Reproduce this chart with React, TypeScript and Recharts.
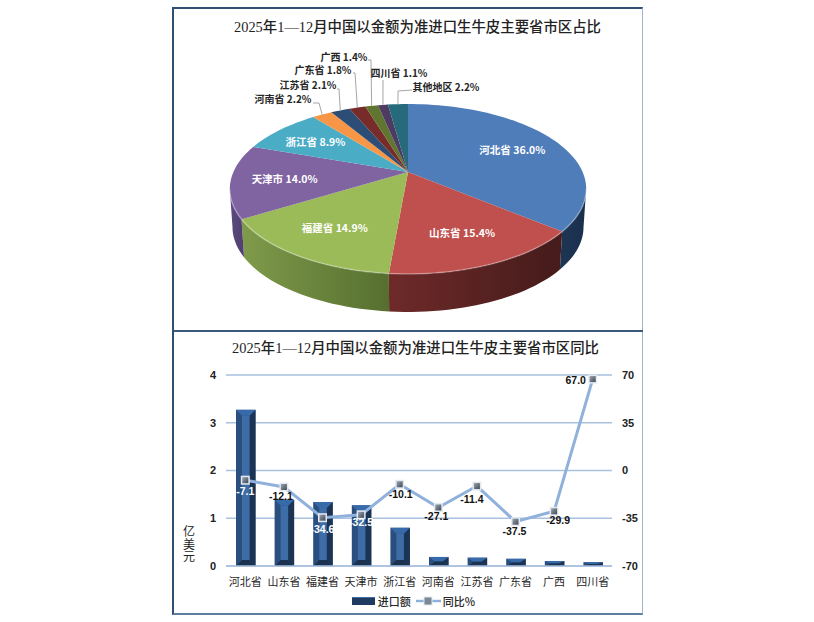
import {
  Bar,
  CartesianGrid,
  ComposedChart,
  Legend,
  Line,
  Pie,
  PieChart,
  XAxis,
  YAxis,
} from "recharts";

const shareNames = ["河北省", "山东省", "福建省", "天津市", "浙江省", "河南省", "江苏省", "广东省", "广西", "四川省", "其他地区"];
const shareValues = [36.0, 15.4, 14.9, 14.0, 8.9, 2.2, 2.1, 1.8, 1.4, 1.1, 2.2];
const shareColors = ["#4f7dba", "#c0504d", "#9bbb59", "#8064a2", "#4bacc6", "#f79646", "#2c4d75", "#772c2a", "#5f7530", "#4d3b62", "#276a7c"];
const wallLight = ["#1d3554", "#6e2a29", "#7f9b4a", "#5c4a80", "#2f7385", "#a8642c", "#1d3554", "#4d1e1e", "#3e4d20", "#33273f", "#1a4a57"];
const wallDark = ["#1a2f4c", "#451b1b", "#566f30", "#4f3f6e", "#27606f", "#8a5224", "#1a2f4c", "#3d1818", "#333f1a", "#2a2034", "#163e49"];

const provinces = ["河北省", "山东省", "福建省", "天津市", "浙江省", "河南省", "江苏省", "广东省", "广西", "四川省"];
const importValues = [3.27, 1.39, 1.34, 1.27, 0.8, 0.19, 0.175, 0.15, 0.105, 0.08];
const yoyValues = [-7.1, -12.1, -34.6, -32.5, -10.1, -27.1, -11.4, -37.5, -29.9, 67.0];
const amountTicks = [0, 1, 2, 3, 4];
const yoyTicks = [-70, -35, 0, 35, 70];

const shareData = shareNames.map((name, i) => ({ name, value: shareValues[i] }));
const barData = provinces.map((name, i) => ({ name, amount: importValues[i], yoy: yoyValues[i] }));

const SERIF = '"Liberation Serif", "Noto Sans CJK SC", serif';
const LABEL_FONT = '"Noto Sans CJK SC", "Liberation Sans", sans-serif';

// pie is drawn in perspective: the apex sits above the middle of the rim
const TILT = 0.467;
const PERSPECTIVE = 0.2;
const DEPTH = 38;

function project(cx: number, cy: number, r: number, angle: number, f = 1) {
  const t = ((90 - angle) * Math.PI) / 180;
  const u = Math.sin(t) * f;
  const v = -Math.cos(t) * f;
  const w = 1 - PERSPECTIVE * v;
  return { x: cx + (r * u) / w, y: cy + (r * TILT * v) / w };
}

function arcPoints(cx: number, cy: number, r: number, from: number, to: number) {
  const pts = [];
  const steps = Math.max(2, Math.ceil(Math.abs(to - from) / 2));
  for (let i = 0; i <= steps; i++) {
    pts.push(project(cx, cy, r, from + ((to - from) * i) / steps));
  }
  return pts;
}

const toPath = (pts: { x: number; y: number }[]) =>
  pts.map((p, i) => `${i === 0 ? "M" : "L"}${p.x.toFixed(2)},${p.y.toFixed(2)}`).join(" ");

// front half of the rim, in recharts angles
const FRONT_START = -11.5;
const FRONT_END = -168.5;

function PieFace(props: any) {
  const { cx, cy, outerRadius, startAngle, endAngle, index } = props;
  const pts = arcPoints(cx, cy, outerRadius, startAngle, endAngle);
  const a = Math.min(startAngle, FRONT_START);
  const b = Math.max(endAngle, FRONT_END);
  return (
    <g>
      <path d={`M${cx},${cy} ${toPath(pts).replace("M", "L")} Z`} fill={shareColors[index]} />
      {a > b && (
        <path
          d={toPath(arcPoints(cx, cy, outerRadius, a, b))}
          fill="none"
          stroke="#fff"
          strokeOpacity={0.28}
          strokeWidth={1.6}
        />
      )}
    </g>
  );
}

function PieWall(props: any) {
  const { cx, cy, outerRadius, startAngle, endAngle, index } = props;
  const a = Math.min(startAngle, FRONT_START);
  const b = Math.max(endAngle, FRONT_END);
  if (a <= b) return <g />;
  const top = arcPoints(cx, cy, outerRadius, a, b);
  const bottom = top
    .map((p) => ({ x: cx + (p.x - cx) * 0.985, y: p.y + DEPTH }))
    .reverse();
  return <path d={`${toPath(top)} ${toPath(bottom).replace("M", "L")} Z`} fill={`url(#wall${index})`} />;
}

// outside labels: text centre and leader elbow, in chart pixels
const outsideLabels: Record<number, { x: number; y: number; ex: number; ey: number; sx: number; sy: number }> = {
  5: { x: 111, y: 88, ex: 147, ey: 93, sx: 141, sy: 93 },
  6: { x: 136, y: 74, ex: 167, ey: 79, sx: 165, sy: 79 },
  7: { x: 151, y: 59, ex: 183, ey: 63, sx: 181, sy: 63 },
  8: { x: 172, y: 46, ex: 199, ey: 50, sx: 196, sy: 50 },
  9: { x: 227, y: 62, ex: 211, ey: 70, sx: 211, sy: 70 },
  10: { x: 274, y: 76, ex: 226, ey: 81, sx: 240, sy: 80 },
};

function renderShareLabel(props: any) {
  const { cx, cy, outerRadius, midAngle, index, name, value } = props;
  const text = `${name} ${value.toFixed(1)}%`;
  const out = outsideLabels[index];
  if (!out) {
    const p = project(cx, cy, outerRadius, midAngle, 0.7);
    return (
      <text x={p.x} y={p.y} fill="#fff" fontSize={10.5} fontWeight={700} fontFamily={LABEL_FONT} textAnchor="middle" dominantBaseline="central">
        {text}
      </text>
    );
  }
  const end = project(cx, cy, outerRadius, midAngle);
  return (
    <g>
      <polyline
        points={`${out.sx},${out.sy} ${out.ex},${out.ey} ${end.x},${end.y}`}
        fill="none"
        stroke="#a6a6a6"
        strokeWidth={1}
      />
      <text x={out.x} y={out.y} fill="#262626" fontSize={10} fontWeight={700} fontFamily={LABEL_FONT} textAnchor="middle" dominantBaseline="central">
        {text}
      </text>
    </g>
  );
}

function BevelBar(props: any) {
  const { x, y, width, height } = props;
  const inset = Math.min(6, height / 2);
  const ix = x + 6;
  const iw = width - 12;
  return (
    <g>
      <rect x={x} y={y} width={width} height={height} fill="#2a4f7f" />
      <polygon points={`${x + width},${y} ${x + width},${y + height} ${ix + iw},${y + height - inset} ${ix + iw},${y + inset}`} fill="#1b3454" />
      <polygon points={`${x},${y} ${x + width},${y} ${ix + iw},${y + inset} ${ix},${y + inset}`} fill="#376aa8" />
      <polygon points={`${x},${y + height} ${x + width},${y + height} ${ix + iw},${y + height - inset} ${ix},${y + height - inset}`} fill="#1a3150" />
      {height > 12 && <rect x={ix} y={y + inset} width={iw} height={height - 2 * inset} fill="#3d6ca6" />}
    </g>
  );
}

function SquareDot(props: any) {
  const { cx, cy } = props;
  return (
    <g>
      <rect x={cx - 4.5} y={cy - 4.5} width={9} height={9} fill="#e4e9f0" />
      <rect x={cx - 3} y={cy - 3} width={6} height={6} fill="url(#dotFill)" />
    </g>
  );
}

const yoyLabelOffsets = [
  { dx: 0, dy: 11, fill: "#fff" },
  { dx: -3, dy: 9, fill: "#111" },
  { dx: 0, dy: 11, fill: "#fff" },
  { dx: 0, dy: 7, fill: "#fff" },
  { dx: 1, dy: 10, fill: "#111" },
  { dx: -2, dy: 9, fill: "#111" },
  { dx: -5, dy: 13, fill: "#111" },
  { dx: -1, dy: 9, fill: "#111" },
  { dx: 4, dy: 9, fill: "#111" },
  { dx: -17, dy: 1, fill: "#111" },
];

function renderYoyLabel(props: any) {
  const { x, y, index, value } = props;
  const o = yoyLabelOffsets[index];
  return (
    <text x={x + o.dx} y={y + o.dy} fill={o.fill} fontSize={10.5} fontWeight={700} fontFamily='"Liberation Sans", sans-serif' textAnchor="middle" dominantBaseline="central">
      {value.toFixed(1)}
    </text>
  );
}

function LegendBox() {
  return (
    <div style={{ display: "flex", justifyContent: "center", alignItems: "center", height: 20, paddingLeft: 12, fontFamily: LABEL_FONT, fontSize: 11, color: "#262626", fontWeight: 500 }}>
      <span style={{ width: 23, height: 7, background: "#1f3b61", borderTop: "1px solid #3d6ca6", marginRight: 3 }} />
      <span style={{ marginRight: 5 }}>进口额</span>
      <svg width={25} height={10} style={{ marginRight: 2 }}>
        <line x1={0} y1={5} x2={25} y2={5} stroke="#8eb0dc" strokeWidth={2.5} />
        <rect x={8} y={1} width={8} height={8} fill="#7b8794" stroke="#e4e9f0" />
      </svg>
      <span>同比%</span>
    </div>
  );
}

const titleStyle: React.CSSProperties = {
  position: "absolute",
  width: 469,
  textAlign: "center",
  fontFamily: SERIF,
  fontSize: 14.4,
  fontWeight: 500,
  color: "#222",
  whiteSpace: "nowrap",
};

const axisTick = { fontSize: 11, fontWeight: 700, fill: "#222", fontFamily: '"Liberation Sans", sans-serif' };

export default function App() {
  return (
    <div style={{ position: "fixed", left: 0, top: 0, width: 814, height: 622, background: "#fff", overflow: "hidden" }}>
      <div style={{ position: "absolute", left: 172, top: 7, width: 471, height: 608, boxSizing: "border-box", borderLeft: "2px solid #2f4f73", borderTop: "2px solid #2f4f73", borderRight: "1px solid #9fb4cc", borderBottom: "2px solid #5f7f9f" }} />
      <div style={{ position: "absolute", left: 174, top: 330, width: 469, height: 2, background: "#3a5a7c" }} />
      <div style={{ ...titleStyle, left: 183, top: 15 }}>2025年1—12月中国以金额为准进口生牛皮主要省市区占比</div>
      <div style={{ ...titleStyle, left: 181, top: 336 }}>2025年1—12月中国以金额为准进口生牛皮主要省市区同比</div>

      <div style={{ position: "absolute", left: 172, top: 10 }}>
        <PieChart width={471} height={318} margin={{ top: 0, right: 0, bottom: 0, left: 0 }}>
          <defs>
            {shareColors.map((_, i) => (
              <linearGradient id={`wall${i}`} key={i} x1="0" y1="0" x2="1" y2="0">
                <stop offset="0%" stopColor={wallLight[i]} />
                <stop offset="100%" stopColor={wallDark[i]} />
              </linearGradient>
            ))}
          </defs>
          <Pie
            data={shareData}
            dataKey="value"
            cx={236}
            cy={162}
            outerRadius={174.6}
            startAngle={90}
            endAngle={-270}
            stroke="none"
            shape={PieWall}
            isAnimationActive={false}
          />
          <Pie
            data={shareData}
            dataKey="value"
            cx={236}
            cy={162}
            outerRadius={174.6}
            startAngle={90}
            endAngle={-270}
            stroke="none"
            shape={PieFace}
            label={renderShareLabel}
            labelLine={false}
            isAnimationActive={false}
          />
        </PieChart>
      </div>

      <div style={{ position: "absolute", left: 172, top: 335 }}>
        <ComposedChart
          width={471}
          height={278}
          data={barData}
          barCategoryGap="50%"
          margin={{ top: 40, right: 0, bottom: 0, left: 0 }}
        >
          <defs>
            <linearGradient id="dotFill" x1="0" y1="0" x2="1" y2="1">
              <stop offset="0%" stopColor="#9aa3ad" />
              <stop offset="100%" stopColor="#3f4a57" />
            </linearGradient>
          </defs>
          <CartesianGrid yAxisId="amount" horizontal vertical={false} stroke="#a9c1de" strokeWidth={1.5} />
          <XAxis
            dataKey="name"
            interval={0}
            height={25}
            tickLine={false}
            tickMargin={6}
            axisLine={{ stroke: "#a9c1de", strokeWidth: 1.5 }}
            tick={{ fontSize: 11, fill: "#262626", fontFamily: SERIF }}
          />
          <YAxis
            yAxisId="amount"
            domain={[0, 4]}
            ticks={amountTicks}
            width={54}
            tickLine={false}
            axisLine={false}
            tick={axisTick}
            tickMargin={4}
          />
          <YAxis
            yAxisId="yoy"
            orientation="right"
            domain={[-70, 70]}
            ticks={yoyTicks}
            width={31}
            tickLine={false}
            axisLine={false}
            tick={axisTick}
            tickMargin={4}
          />
          <Legend verticalAlign="bottom" height={22} content={<LegendBox />} />
          <Bar yAxisId="amount" dataKey="amount" barSize={19.5} shape={BevelBar} isAnimationActive={false} />
          <Line
            yAxisId="yoy"
            dataKey="yoy"
            type="linear"
            stroke="#8fb1dc"
            strokeWidth={3}
            dot={SquareDot}
            label={renderYoyLabel}
            isAnimationActive={false}
          />
        </ComposedChart>
      </div>

      <div style={{ position: "absolute", left: 182, top: 526, width: 14, fontFamily: SERIF, fontSize: 12, lineHeight: "12.5px", color: "#222", textAlign: "center" }}>
        亿<br />美<br />元
      </div>
    </div>
  );
}
